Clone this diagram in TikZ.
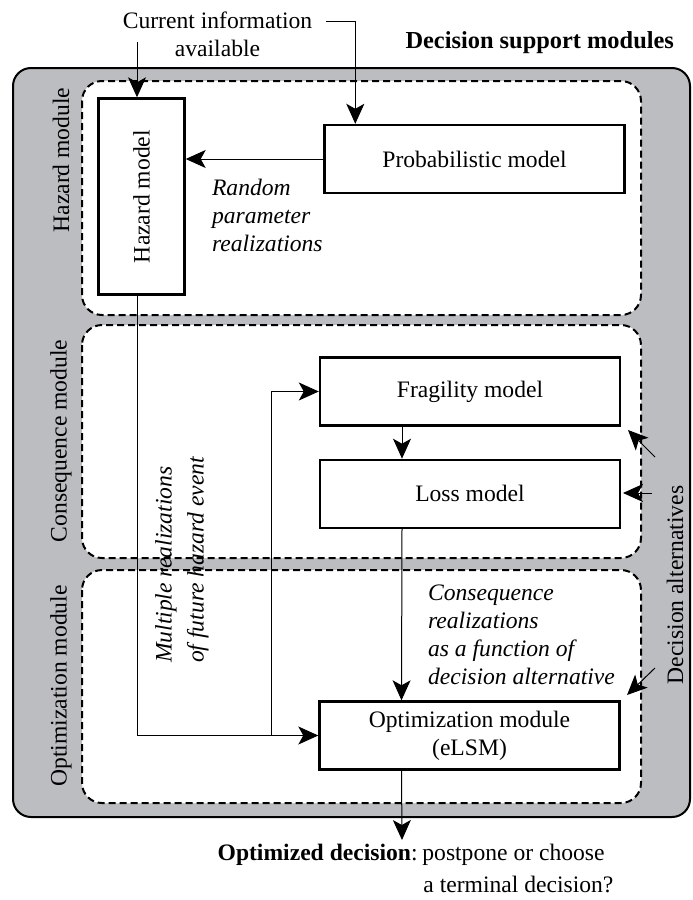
\documentclass[tikz,border=0pt]{standalone}
\usepackage{fontspec}
\setmainfont{Liberation Serif}
\usetikzlibrary{arrows.meta,positioning}

\definecolor{framegray}{RGB}{188,189,192}
\newcommand{\figfont}{\fontsize{11.8}{14}\selectfont}

\tikzset{
	model/.style={draw, line width=1.2pt, minimum width=150pt, minimum height=34pt, inner sep=0pt},
	modbox/.style={draw, line width=1pt, dash pattern=on 3.5pt off 2pt, rounded corners=10pt, fill=white},
	flow/.style={line width=0.5pt, -{Stealth[length=10pt,width=9pt,inset=2.5pt]}},
	note/.style={align=left, font=\figfont\itshape},
}

\begin{document}
\begin{tikzpicture}[x=0.5pt, y=-0.5pt, font=\figfont]
	\useasboundingbox (0,0) rectangle (692,900);
	
	% frame and the three modules
	\draw[fill=framegray, line width=1pt, rounded corners=9pt] (13,68) rectangle (690,817);
	\draw[modbox] (82,81) rectangle (641,315);
	\draw[modbox] (82,325) rectangle (641,558);
	\draw[modbox] (82,570) rectangle (641,803);
	
	\node[anchor=east, font=\fontsize{12.2}{14}\selectfont\bfseries] (title) at (681,43) {Decision support modules};
	\node[rotate=90] (hazlab) at (61,160) {Hazard module};
	\node[rotate=90] (conslab) at (61,441) {Consequence module};
	\node[rotate=90] (optlab) at (61,686) {Optimization module};
	
	% models
	\node[model, minimum width=43pt, minimum height=98pt] (haz) at (141.5,196.5) {\rotatebox{90}{Hazard model}};
	\node[model] (prob) at (474.5,159) {Probabilistic model};
	\node[model] (frag) at (470,391.5) {Fragility model};
	\node[model, below=16pt of frag] (loss) {Loss model};
	\node[model, align=center] (opt) at (469.5,735.5) {Optimization module\\(eLSM)};
	
	\node[align=center] (info) at (217.5,34) {Current information\\available};
	\node[note, anchor=west] (rand) at (205,215) {Random\\parameter\\realizations};
	\node[note, rotate=90, anchor=west] (multi) at (182,670) {Multiple realizations\\[2pt]of future hazard event};
	\node[note, anchor=west] (cons) at (421,634.5) {Consequence\\realizations\\as a function of\\decision alternative};
	\node[rotate=90] (alt) at (675,585) {Decision alternatives};
	\node[anchor=base east, inner sep=0pt] (decA) at (418,860) {\textbf{Optimized decision}:};
	\node[anchor=base west, inner sep=0pt] (decB) at (422,860) {postpone or choose};
	\node[anchor=base west, inner sep=0pt] (decC) at (423,892) {a terminal decision?};
	
	\coordinate (infoL) at (137,42);
	\coordinate (infoR) at (326,21);
	\coordinate (split) at (271,735.5);
	\coordinate (decout) at (402,840);
	\coordinate (alt1) at (655,457);
	\coordinate (alt2) at (652,493);
	\coordinate (alt3) at (655,668);
	
	% connectors
	\draw[flow] (infoL) -- (infoL |- haz.north);
	\draw[flow] (infoR) -| ([xshift=16pt]prob.north west);
	\draw[flow] (prob.west) -- (prob.west -| haz.east);
	\draw[flow] ([xshift=-2.25pt]haz.south) |- (opt.west);
	\draw[flow] (split) |- (frag.west);
	\draw[flow] ([xshift=-34pt]frag.south) -- ([xshift=-34pt]loss.north);
	\draw[flow] ([xshift=-34pt]loss.south) -- ([xshift=-34pt]opt.north);
	\draw[flow] ([xshift=-34pt]opt.south) -- (decout);
	\draw[flow] (alt1) -- ++(-27,-27);
	\draw[flow] (alt2) -- ++(-29,0);
	\draw[flow] (alt3) -- ++(-28,27);
\end{tikzpicture}
\end{document}
